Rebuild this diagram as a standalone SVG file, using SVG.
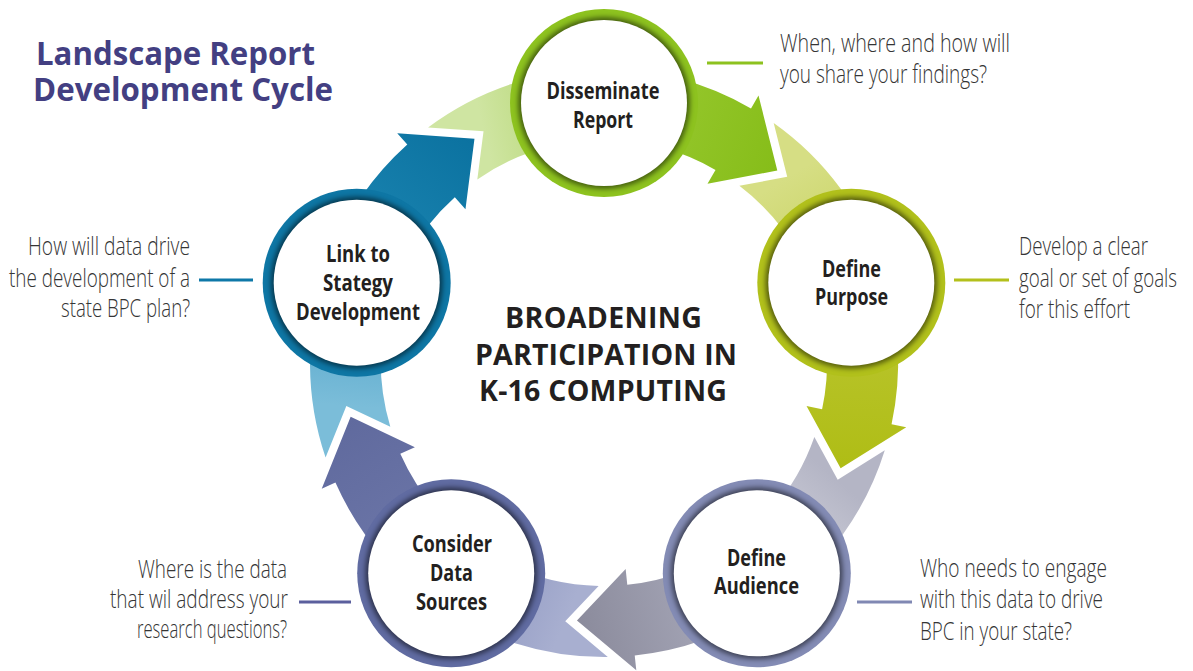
<svg xmlns="http://www.w3.org/2000/svg" xmlns:xlink="http://www.w3.org/1999/xlink" width="1193" height="671" viewBox="0 0 1193 671">
  <defs>
    <style>
      .title{font-family:"Open Sans","Liberation Sans",sans-serif;font-weight:700;font-size:32px;fill:#433f82}
      .hub{font-family:"Open Sans","Liberation Sans",sans-serif;font-weight:700;font-size:28.5px;fill:#231f20}
      .lbl{font-family:"Open Sans","Liberation Sans",sans-serif;font-weight:700;font-size:24px;fill:#231f20}
      .note{font-family:"Open Sans","Liberation Sans",sans-serif;font-weight:300;font-size:25px;fill:#353535}
      .lead{stroke-width:3;fill:none}
      .hole{fill:#ffffff}
      .shade{fill:#000000;opacity:0.5;filter:url(#soft)}
    </style>
    <filter id="soft" x="-20%" y="-20%" width="140%" height="140%">
      <feGaussianBlur stdDeviation="2.5"/>
    </filter>

    <!-- one arrow body + head, drawn for the step at the top; rotated for the others -->
    <path id="arrow" d="M604,69 A294,294 0 0 1 751,108.4 L758.5,95.4 L777.3,170.5 L707.5,183.7 L715.5,169.9 A223,223 0 0 0 604,140 Z"/>
    <!-- notched tail leading into the next step -->
    <path id="tail" d="M773.7,122.9 L787.2,176.8 L739.4,185.8 A223,223 0 0 1 816.1,294.1 L883.6,272.2 A294,294 0 0 0 773.7,122.9 Z"/>

    <linearGradient id="a0" gradientUnits="userSpaceOnUse" x1="604" y1="103" x2="777" y2="170"><stop offset="0" stop-color="#9ccb34"/><stop offset="1" stop-color="#86bd19"/></linearGradient>
    <linearGradient id="t0" gradientUnits="userSpaceOnUse" x1="787" y1="177" x2="851" y2="283"><stop offset="0" stop-color="#d6de84"/><stop offset="1" stop-color="#c5d05a"/></linearGradient>
    <linearGradient id="a1" gradientUnits="userSpaceOnUse" x1="604" y1="103" x2="777" y2="170"><stop offset="0" stop-color="#bcc734"/><stop offset="1" stop-color="#afbd15"/></linearGradient>
    <linearGradient id="t1" gradientUnits="userSpaceOnUse" x1="787" y1="177" x2="851" y2="283"><stop offset="0" stop-color="#b4b5c5"/><stop offset="1" stop-color="#d8d9e1"/></linearGradient>
    <linearGradient id="a2" gradientUnits="userSpaceOnUse" x1="604" y1="103" x2="777" y2="170"><stop offset="0" stop-color="#b0b1c2"/><stop offset="1" stop-color="#8b8b9c"/></linearGradient>
    <linearGradient id="t2" gradientUnits="userSpaceOnUse" x1="787" y1="177" x2="851" y2="283"><stop offset="0" stop-color="#a8afd0"/><stop offset="1" stop-color="#8790bc"/></linearGradient>
    <linearGradient id="a3" gradientUnits="userSpaceOnUse" x1="604" y1="103" x2="777" y2="170"><stop offset="0" stop-color="#6f79aa"/><stop offset="1" stop-color="#606a9e"/></linearGradient>
    <linearGradient id="t3" gradientUnits="userSpaceOnUse" x1="787" y1="177" x2="851" y2="283"><stop offset="0" stop-color="#7bbdd9"/><stop offset="1" stop-color="#4a9fc6"/></linearGradient>
    <linearGradient id="a4" gradientUnits="userSpaceOnUse" x1="604" y1="103" x2="777" y2="170"><stop offset="0" stop-color="#1e88b4"/><stop offset="1" stop-color="#0b72a0"/></linearGradient>
    <linearGradient id="t4" gradientUnits="userSpaceOnUse" x1="787" y1="177" x2="851" y2="283"><stop offset="0" stop-color="#cfe5a2"/><stop offset="1" stop-color="#aad05e"/></linearGradient>
  </defs>

  <rect width="1193" height="671" fill="#ffffff"/>

  <!-- heading -->
  <g id="heading">
    <text class="title" x="36" y="65" textLength="279" lengthAdjust="spacingAndGlyphs">Landscape Report</text>
    <text class="title" x="33" y="101" textLength="300" lengthAdjust="spacingAndGlyphs">Development Cycle</text>
  </g>

  <!-- cycle arrows -->
  <g id="connectors">
    <g transform="rotate(0 604 363)">
      <use xlink:href="#arrow" href="#arrow" fill="url(#a0)"/>
      <use xlink:href="#tail" href="#tail" fill="url(#t0)"/>
    </g>
    <g transform="rotate(72 604 363)">
      <use xlink:href="#arrow" href="#arrow" fill="url(#a1)"/>
      <use xlink:href="#tail" href="#tail" fill="url(#t1)"/>
    </g>
    <g transform="rotate(144 604 363)">
      <use xlink:href="#arrow" href="#arrow" fill="url(#a2)"/>
      <use xlink:href="#tail" href="#tail" fill="url(#t2)"/>
    </g>
    <g transform="rotate(216 604 363)">
      <use xlink:href="#arrow" href="#arrow" fill="url(#a3)"/>
      <use xlink:href="#tail" href="#tail" fill="url(#t3)"/>
    </g>
    <g transform="rotate(288 604 363)">
      <use xlink:href="#arrow" href="#arrow" fill="url(#a4)"/>
      <use xlink:href="#tail" href="#tail" fill="url(#t4)"/>
    </g>
  </g>

  <!-- centre caption -->
  <g id="hub">
    <text class="hub" x="505" y="328" textLength="197" lengthAdjust="spacing">BROADENING</text>
    <text class="hub" x="475" y="365" textLength="262" lengthAdjust="spacing">PARTICIPATION IN</text>
    <text class="hub" x="479" y="401" textLength="248" lengthAdjust="spacing">K-16 COMPUTING</text>
  </g>

  <!-- steps -->
  <g id="disseminate-report">
    <circle cx="604" cy="103" r="94" fill="#8dc21f"/>
    <circle class="shade" cx="604" cy="103" r="86"/>
    <circle class="hole" cx="604" cy="103" r="83"/>
    <text class="lbl" x="546.5" y="99" textLength="113" lengthAdjust="spacingAndGlyphs">Disseminate</text>
    <text class="lbl" x="573" y="128" textLength="60" lengthAdjust="spacingAndGlyphs">Report</text>
    <line class="lead" x1="707" y1="63" x2="763" y2="63" stroke="#8dc21f"/>
    <text class="note" x="780" y="52" textLength="230" lengthAdjust="spacingAndGlyphs">When, where and how will</text>
    <text class="note" x="780" y="83" textLength="207" lengthAdjust="spacingAndGlyphs">you share your findings?</text>
  </g>

  <g id="define-purpose">
    <circle cx="851.3" cy="282.7" r="94" fill="#b1c01b"/>
    <circle class="shade" cx="851.3" cy="282.7" r="86"/>
    <circle class="hole" cx="851.3" cy="282.7" r="83"/>
    <text class="lbl" x="822" y="277" textLength="59" lengthAdjust="spacingAndGlyphs">Define</text>
    <text class="lbl" x="815" y="305" textLength="73" lengthAdjust="spacingAndGlyphs">Purpose</text>
    <line class="lead" x1="954" y1="280" x2="1009" y2="280" stroke="#b3c01b"/>
    <text class="note" x="1019" y="255" textLength="129" lengthAdjust="spacingAndGlyphs">Develop a clear</text>
    <text class="note" x="1019" y="287" textLength="158" lengthAdjust="spacingAndGlyphs">goal or set of goals</text>
    <text class="note" x="1019" y="318" textLength="111" lengthAdjust="spacingAndGlyphs">for this effort</text>
  </g>

  <g id="define-audience">
    <circle cx="756.8" cy="573.3" r="94" fill="#838bb4"/>
    <circle class="shade" cx="756.8" cy="573.3" r="86"/>
    <circle class="hole" cx="756.8" cy="573.3" r="83"/>
    <text class="lbl" x="727" y="566" textLength="59" lengthAdjust="spacingAndGlyphs">Define</text>
    <text class="lbl" x="714" y="594" textLength="85" lengthAdjust="spacingAndGlyphs">Audience</text>
    <line class="lead" x1="857" y1="602" x2="912" y2="602" stroke="#8088b3"/>
    <text class="note" x="920" y="577" textLength="187" lengthAdjust="spacingAndGlyphs">Who needs to engage</text>
    <text class="note" x="920" y="608" textLength="183" lengthAdjust="spacingAndGlyphs">with this data to drive</text>
    <text class="note" x="920" y="640" textLength="152" lengthAdjust="spacingAndGlyphs">BPC in your state?</text>
  </g>

  <g id="consider-data-sources">
    <circle cx="451.2" cy="573.3" r="94" fill="#606ba1"/>
    <circle class="shade" cx="451.2" cy="573.3" r="86"/>
    <circle class="hole" cx="451.2" cy="573.3" r="83"/>
    <text class="lbl" x="412" y="552" textLength="80" lengthAdjust="spacingAndGlyphs">Consider</text>
    <text class="lbl" x="430" y="581" textLength="43" lengthAdjust="spacingAndGlyphs">Data</text>
    <text class="lbl" x="416" y="610" textLength="71" lengthAdjust="spacingAndGlyphs">Sources</text>
    <line class="lead" x1="299" y1="602" x2="351" y2="602" stroke="#5b5f9d"/>
    <text class="note" x="138" y="578" textLength="149" lengthAdjust="spacingAndGlyphs">Where is the data</text>
    <text class="note" x="110" y="608" textLength="178" lengthAdjust="spacingAndGlyphs">that wil address your</text>
    <text class="note" x="137" y="638" textLength="150" lengthAdjust="spacingAndGlyphs">research questions?</text>
  </g>

  <g id="link-to-strategy">
    <circle cx="356.7" cy="282.7" r="94" fill="#0e76a4"/>
    <circle class="shade" cx="356.7" cy="282.7" r="86"/>
    <circle class="hole" cx="356.7" cy="282.7" r="83"/>
    <text class="lbl" x="326" y="262" textLength="64" lengthAdjust="spacingAndGlyphs">Link to</text>
    <text class="lbl" x="323" y="291" textLength="70" lengthAdjust="spacingAndGlyphs">Stategy</text>
    <text class="lbl" x="296" y="320" textLength="124" lengthAdjust="spacingAndGlyphs">Development</text>
    <line class="lead" x1="199" y1="280" x2="253" y2="280" stroke="#0e78a8"/>
    <text class="note" x="28" y="255" textLength="162" lengthAdjust="spacingAndGlyphs">How will data drive</text>
    <text class="note" x="9" y="287" textLength="181" lengthAdjust="spacingAndGlyphs">the development of a</text>
    <text class="note" x="61" y="317" textLength="129" lengthAdjust="spacingAndGlyphs">state BPC plan?</text>
  </g>
</svg>
